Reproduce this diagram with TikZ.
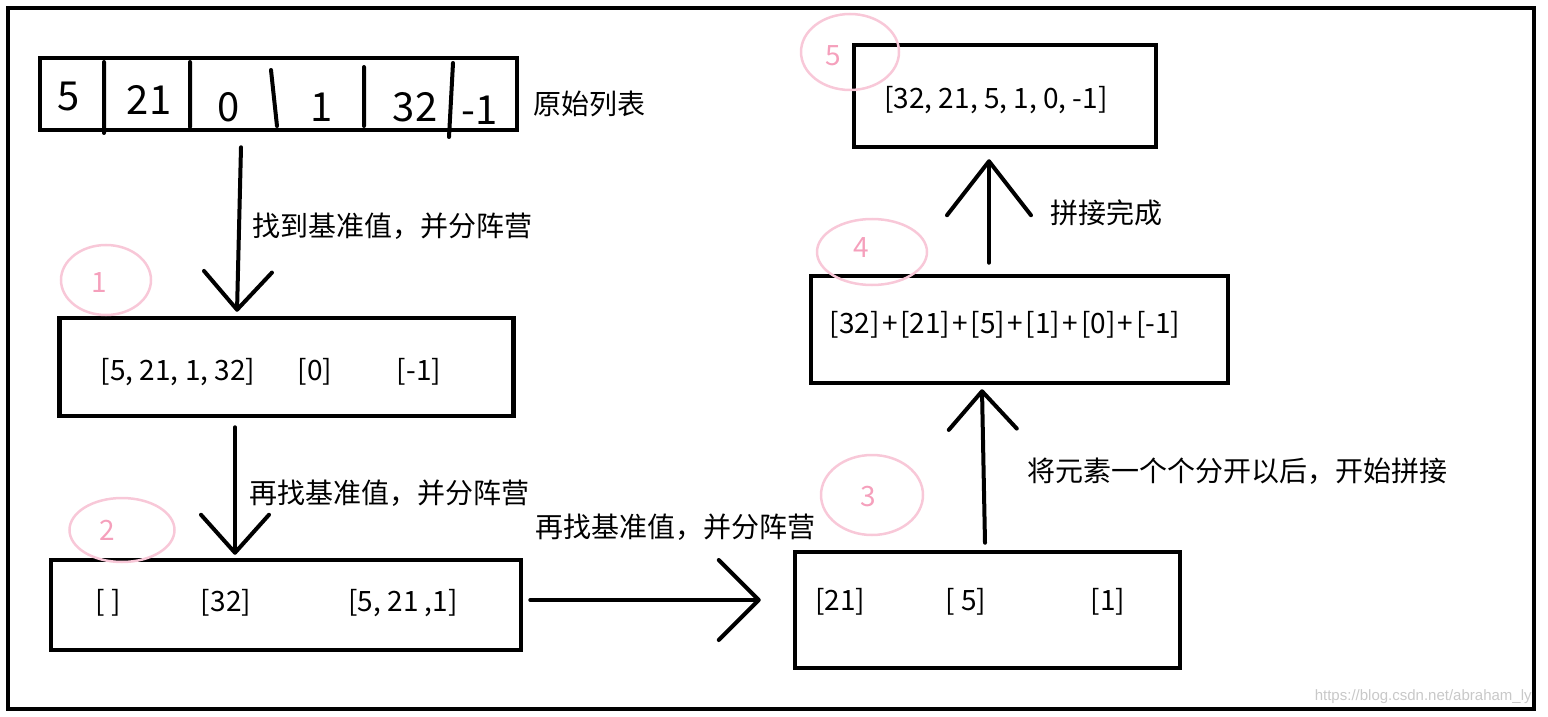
\documentclass[tikz,border=0pt]{standalone}
\usepackage{fontspec}
\setmainfont{Noto Sans CJK SC}
\newfontfamily\wmfont{Liberation Sans}
\usetikzlibrary{arrows.meta,shapes.geometric}
\definecolor{ringpink}{RGB}{248,200,216}
\definecolor{numpink}{RGB}{245,160,188}
\definecolor{wmgray}{RGB}{200,200,200}
\newcommand\plusgap{\hspace{0.09em}+\hspace{0.09em}}

\begin{document}
\begin{tikzpicture}[
    x = 0.5pt, y = -0.5pt,
    font = \fontsize{14}{16}\selectfont,
    box/.style = {draw, line width = 2.25pt, inner sep = 0pt},
    cell/.style = {font = \fontsize{20}{22}\selectfont, inner sep = 0pt},
    txt/.style = {inner sep = 0pt},
    ring/.style = {draw = ringpink, line width = 1.25pt, ellipse, inner sep = 0pt},
    ringnum/.style = {text = numpink, inner sep = 0pt},
    bigarrow/.style = {line width = 2pt, line cap = round,
        -{Straight Barb[length = 19pt, width = 34pt, round]}}]

\useasboundingbox (0,0) rectangle (1548,717);
\draw[line width = 2.25pt] (8,8) rectangle (1534,709);

\node[box, minimum width = 238.5pt, minimum height = 36pt] (list) at (278.5,94) {};
\draw[line width = 2pt, line cap = round] (104,62) -- (104,133)
      (190,62) -- (190,127)
      (271,70) -- (277,126)
      (364,67) -- (364,126)
      (453,63) -- (449,137);
\node[cell] (c1) at (69,97) {5};
\node[cell] (c2) at (149,100) {21};
\node[cell] (c3) at (229,107) {0};
\node[cell] (c4) at (322,107) {1};
\node[cell] (c5) at (415,107) {32};
\node[cell] (c6) at (480,110) {-1};
\node[txt, anchor = west] (orig) at (533,104) {原始列表};

\node[box, minimum width = 227pt, minimum height = 49pt] (b1) at (286.5,367) {};
\node[txt] (b1l) at (178,372) {[5, 21, 1, 32]};
\node[txt] (b1m) at (315,372) {[0]};
\node[txt] (b1r) at (419,372) {[-1]};

\node[box, minimum width = 235pt, minimum height = 45pt] (b2) at (286,605) {};
\node[txt] (b2l) at (108,603) {[ ]};
\node[txt] (b2m) at (226,603) {[32]};
\node[txt] (b2r) at (403,603) {[5, 21 ,1]};

\node[box, minimum width = 192.5pt, minimum height = 58pt] (b3) at (987.5,610) {};
\node[txt] (b3l) at (840,602) {[21]};
\node[txt] (b3m) at (966,602) {[ 5]};
\node[txt] (b3r) at (1108,602) {[1]};

\node[box, minimum width = 208.5pt, minimum height = 53.5pt] (b4) at (1019.5,329.5) {};
\node[txt] (b4t) at (1005,325) {[32]\plusgap[21]\plusgap[5]\plusgap[1]\plusgap[0]\plusgap[-1]};

\node[box, minimum width = 151pt, minimum height = 51pt] (b5) at (1005,96) {};
\node[txt] (b5t) at (996,100) {[32, 21, 5, 1, 0, -1]};

\draw[bigarrow] ([shift = {(-37.5,15)}]list.south) -- ([shift = {(-49.5,-4)}]b1.north);
\draw[bigarrow] ([shift = {(-51.5,9)}]b1.south) -- ([shift = {(-51,-3)}]b2.north);
\draw[bigarrow, -{Straight Barb[length = 20pt, width = 40pt, round]}]
      ([shift = {(7,-5)}]b2.east) -- ([shift = {(-32,-10)}]b3.west);
\draw[bigarrow] ([shift = {(-2.5,-7)}]b3.north) -- ([shift = {(-37.5,4)}]b4.south);
\draw[bigarrow, -{Straight Barb[length = 27pt, width = 42pt, round]}]
      ([shift = {(-30.5,-11)}]b4.north) -- ([shift = {(-16,10)}]b5.south);

\node[txt, anchor = west] (lab1) at (252,226) {找到基准值，并分阵营};
\node[txt, anchor = west] (lab2) at (249,493) {再找基准值，并分阵营};
\node[txt, anchor = west] (lab3) at (535,527) {再找基准值，并分阵营};
\node[txt, anchor = west] (lab4) at (1027,471) {将元素一个个分开以后，开始拼接};
\node[txt, anchor = west] (lab5) at (1050,213) {拼接完成};

\node[ring, minimum width = 45pt, minimum height = 35pt] (r1) at (106,280) {};
\node[ring, minimum width = 52.5pt, minimum height = 32pt] (r2) at (122,530) {};
\node[ring, minimum width = 51pt, minimum height = 40pt] (r3) at (872,495) {};
\node[ring, minimum width = 55pt, minimum height = 33pt] (r4) at (872,252) {};
\node[ring, minimum width = 49pt, minimum height = 38pt] (r5) at (850,52) {};
\node[ringnum] (n1) at (99,283) {1};
\node[ringnum] (n2) at (107,530) {2};
\node[ringnum] (n3) at (868,497) {3};
\node[ringnum] (n4) at (861,248) {4};
\node[ringnum] (n5) at (833,56) {5};

\node[txt, anchor = east, text = wmgray, font = \wmfont\fontsize{7.5}{9}\selectfont]
      (wm) at (1532,697) {https://blog.csdn.net/abraham\_ly};
\end{tikzpicture}
\end{document}
